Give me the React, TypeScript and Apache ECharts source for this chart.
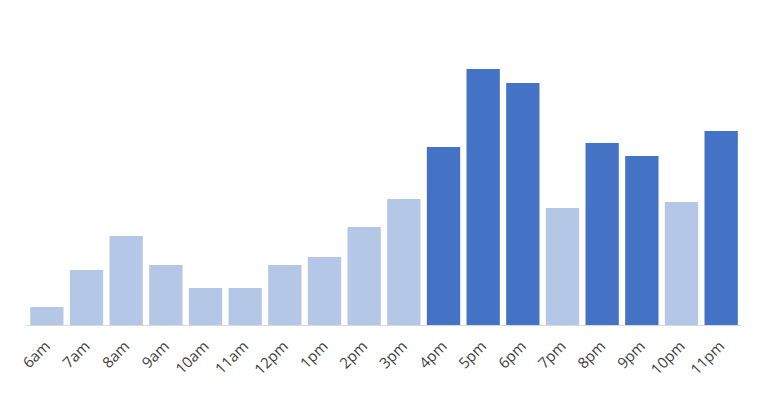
import React, { useEffect, useRef } from "react";
import * as echarts from "echarts";

const categories = ["6am","7am","8am","9am","10am","11am","12pm","1pm","2pm","3pm","4pm","5pm","6pm","7pm","8pm","9pm","10pm","11pm"];
const values = [18, 55, 89, 60, 37, 37, 60, 68, 98, 126, 178, 256, 242, 117, 182, 169, 123, 194];
const highlighted = [false,false,false,false,false,false,false,false,false,false,true,true,true,false,true,true,false,true];

const LIGHT = "#B4C7E7";
const DARK = "#4472C4";

export default function App() {
  const ref = useRef<HTMLDivElement>(null);
  useEffect(() => {
    if (!ref.current) return;
    const chart = echarts.init(ref.current, null, { renderer: "svg" });
    chart.setOption({
      animation: false,
      grid: { left: 19, right: 16, top: 17, bottom: 67, containLabel: false },
      xAxis: {
        type: "category",
        data: categories,
        axisLine: { lineStyle: { color: "#D9D9D9", width: 1 } },
        axisTick: { show: false },
        axisLabel: {
          rotate: 45,
          interval: 0,
          color: "#404040",
          fontSize: 15,
          fontFamily: "Open Sans",
          margin: 18,
        },
      },
      yAxis: {
        type: "value",
        min: 0,
        max: 300,
        show: false,
        splitLine: { show: false },
      },
      series: [
        {
          type: "bar",
          barCategoryGap: "16%",
          data: values.map((v, i) => ({
            value: v,
            itemStyle: { color: highlighted[i] ? DARK : LIGHT },
          })),
        },
      ],
    });
    return () => chart.dispose();
  }, []);
  return <div ref={ref} style={{ width: 749, height: 384 }} />;
}
